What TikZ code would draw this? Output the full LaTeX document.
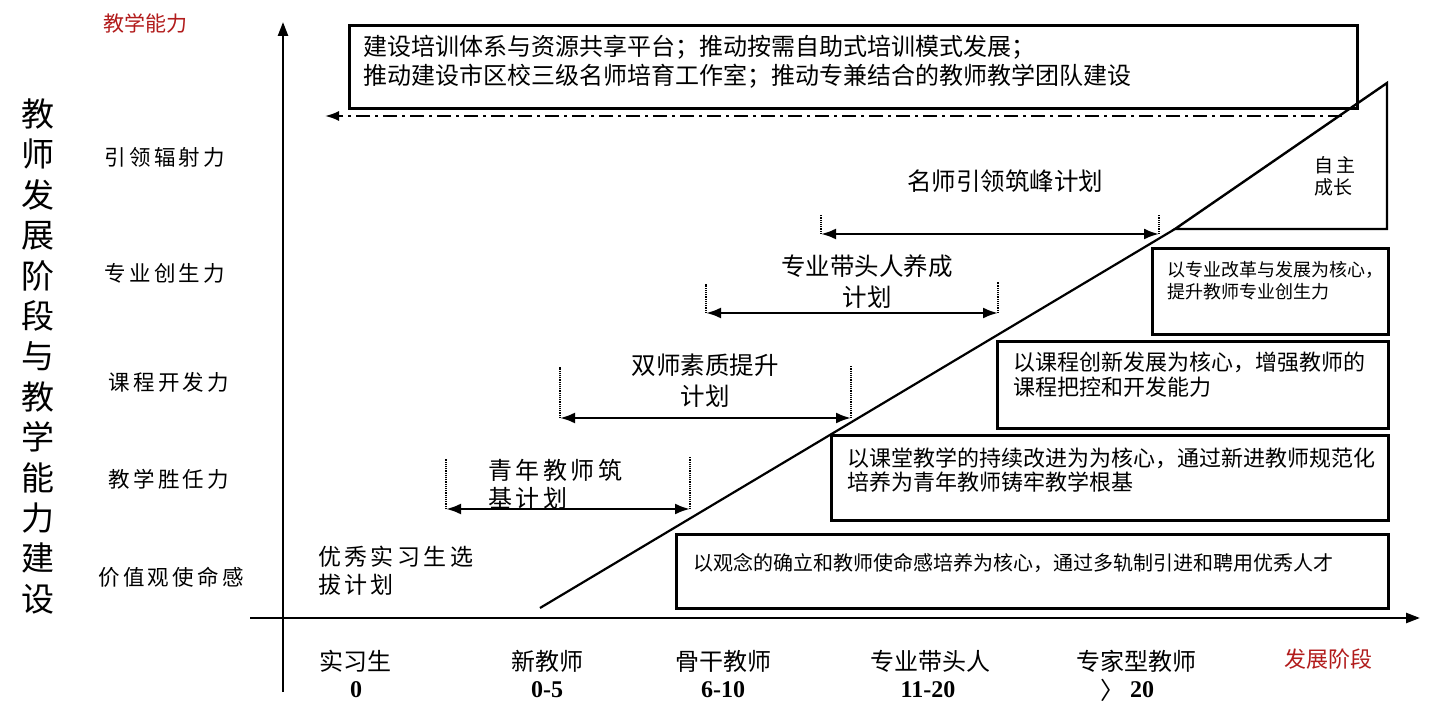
\documentclass[tikz,border=0pt]{standalone}
\usepackage{fontspec}
\setmainfont{Noto Sans CJK SC}
\newfontfamily\spcjk[LetterSpace=15]{Noto Sans CJK SC}
\newfontfamily\numfont{Liberation Serif}
\usetikzlibrary{arrows.meta}
\definecolor{labred}{RGB}{178,28,28}
\newcommand{\fsz}[2]{\fontsize{#1}{#2}\selectfont}
\begin{document}
\begin{tikzpicture}[x=1pt,y=-1pt,
  axisline/.style={line width=2.4pt,-{Triangle[length=14pt,width=10pt]}},
  boxnode/.style={draw,line width=2.6pt,anchor=north west,inner sep=0pt},
  planarrow/.style={line width=2.4pt,{Latex[length=15pt,width=11pt]}-{Latex[length=15pt,width=11pt]}},
  tickline/.style={densely dotted,line width=1.2pt},
  txt/.style={inner sep=0pt,outer sep=0pt},
  lefttxt/.style={txt,anchor=west,align=left},
  sidelbl/.style={txt,font=\spcjk\fsz{21.5}{26}},
  stagelbl/.style={txt,font=\fsz{24}{28}},
  yearlbl/.style={txt,font=\numfont\bfseries\fsz{24}{28}},
  plantxt/.style={txt,font=\fsz{24.5}{31},align=center}
]
\useasboundingbox (0,0) rectangle (1436,719);
\fill[white] (0,0) rectangle (1436,719);

% axes
\coordinate (yB) at (283,692);
\coordinate (yT) at (283,22);
\coordinate (xL) at (250,618);
\coordinate (xR) at (1420,618);
\draw[axisline] (yB) -- (yT);
\draw[axisline] (xL) -- (xR);

% axis titles
\node[txt,text=labred,font=\fsz{21}{25}] (ytitle) at (145,23) {教学能力};
\node[txt,text=labred,font=\fsz{22}{26}] (xtitle) at (1328,659) {发展阶段};

% vertical title
\node[txt,font=\fsz{33}{40.4},align=center] (vtitle) at (38,356.5)
  {教\\师\\发\\展\\阶\\段\\与\\教\\学\\能\\力\\建\\设};

% left ability labels
\node[sidelbl] (l5) at (165,157) {引领辐射力};
\node[sidelbl] (l4) at (165,273) {专业创生力};
\node[sidelbl] (l3) at (169,382) {课程开发力};
\node[sidelbl] (l2) at (169,479) {教学胜任力};
\node[sidelbl] (l1) at (171,577) {价值观使命感};

% stage labels
\node[stagelbl] (s0) at (355,661) {实习生};
\node[stagelbl] (s1) at (547,661) {新教师};
\node[stagelbl] (s2) at (723,661) {骨干教师};
\node[stagelbl] (s3) at (930,661) {专业带头人};
\node[stagelbl] (s4) at (1136,661) {专家型教师};
\node[yearlbl] (y0) at (356,690) {0};
\node[yearlbl] (y1) at (547,690) {0-5};
\node[yearlbl] (y2) at (723,690) {6-10};
\node[yearlbl] (y3) at (928,690) {11-20};
\node[txt,font=\fsz{24}{28}] (y4a) at (1112,690) {〉};
\node[yearlbl] (y4) at (1142,690) {20};

% top box
\node[boxnode,minimum width=1008pt,minimum height=83pt] (b0) at (348,24) {};
\node[lefttxt,font=\fsz{24}{29}] (t0) at (363,61.5)
  {建设培训体系与资源共享平台；推动按需自助式培训模式发展；\\推动建设市区校三级名师培育工作室；推动专兼结合的教师教学团队建设};

% dash-dot arrow
\coordinate (ddR) at (1342,116);
\coordinate (ddL) at (325,116);
\draw[line width=2pt,dash pattern=on 14pt off 5pt on 3pt off 5pt,-{Latex[length=14pt,width=10pt]}] (ddR) -- (ddL);

% diagonal and triangle
\coordinate (dS) at (540,608);
\coordinate (dE) at (1175,229);
\coordinate (tR) at (1387,229);
\coordinate (tT) at (1387,83);
\draw[line width=2.2pt] (dS) -- (dE);
\draw[line width=2.4pt,line join=miter] (dE) -- (tR) -- (tT) -- cycle;
\node[txt,font=\fsz{19}{22},align=left,anchor=west] (zz) at (1314,176) {自\,主\\成长};

% right boxes
\node[boxnode,minimum width=236pt,minimum height=86pt] (b1) at (1151,247) {};
\node[lefttxt,font=\fsz{18}{22}] (t1) at (1167,281) {以专业改革与发展为核心，\\提升教师专业创生力};
\node[boxnode,minimum width=391pt,minimum height=87pt] (b2) at (996,340) {};
\node[lefttxt,font=\fsz{22}{25}] (t2) at (1013,374.5) {以课程创新发展为核心，增强教师的\\课程把控和开发能力};
\node[boxnode,minimum width=557pt,minimum height=85pt] (b3) at (830,434) {};
\node[lefttxt,font=\fsz{22}{24}] (t3) at (847,470) {以课堂教学的持续改进为为核心，通过新进教师规范化\\培养为青年教师铸牢教学根基};
\node[boxnode,minimum width=712pt,minimum height=74pt] (b4) at (675,533) {};
\node[lefttxt,font=\fsz{20}{24}] (t4) at (693,563) {以观念的确立和教师使命感培养为核心，通过多轨制引进和聘用优秀人才};

% plans
% 名师引领筑峰计划
\node[plantxt] (p5) at (1005,181) {名师引领筑峰计划};
\coordinate (p5L) at (821,234); \coordinate (p5Lt) at (821,215);
\coordinate (p5R) at (1159,234); \coordinate (p5Rt) at (1159,215);
\draw[tickline] (p5L) -- (p5Lt);
\draw[tickline] (p5R) -- (p5Rt);
\draw[planarrow] (p5L) -- (p5R);

% 专业带头人养成计划
\node[plantxt] (p4) at (867,281.5) {专业带头人养成\\计划};
\coordinate (p4L) at (706,313); \coordinate (p4Lt) at (706,284);
\coordinate (p4R) at (998,313); \coordinate (p4Rt) at (998,282);
\draw[tickline] (p4L) -- (p4Lt);
\draw[tickline] (p4R) -- (p4Rt);
\draw[planarrow] (p4L) -- (p4R);

% 双师素质提升计划
\node[plantxt] (p3) at (705,380.5) {双师素质提升\\计划};
\coordinate (p3L) at (560,418); \coordinate (p3Lt) at (560,367);
\coordinate (p3R) at (851,418); \coordinate (p3Rt) at (851,366);
\draw[tickline] (p3L) -- (p3Lt);
\draw[tickline] (p3R) -- (p3Rt);
\draw[planarrow] (p3L) -- (p3R);

% 青年教师筑基计划
\node[lefttxt,font=\spcjk\fsz{24}{28}] (p2) at (488,484) {青年教师筑\\基计划};
\coordinate (p2L) at (446,509); \coordinate (p2Lt) at (446,459);
\coordinate (p2R) at (690,509); \coordinate (p2Rt) at (690,457);
\draw[tickline] (p2L) -- (p2Lt);
\draw[tickline] (p2R) -- (p2Rt);
\draw[planarrow] (p2L) -- (p2R);

% 优秀实习生选拔计划
\node[lefttxt,font=\spcjk\fsz{23}{28}] (p1) at (318,571) {优秀实习生选\\拔计划};

\end{tikzpicture}
\end{document}
